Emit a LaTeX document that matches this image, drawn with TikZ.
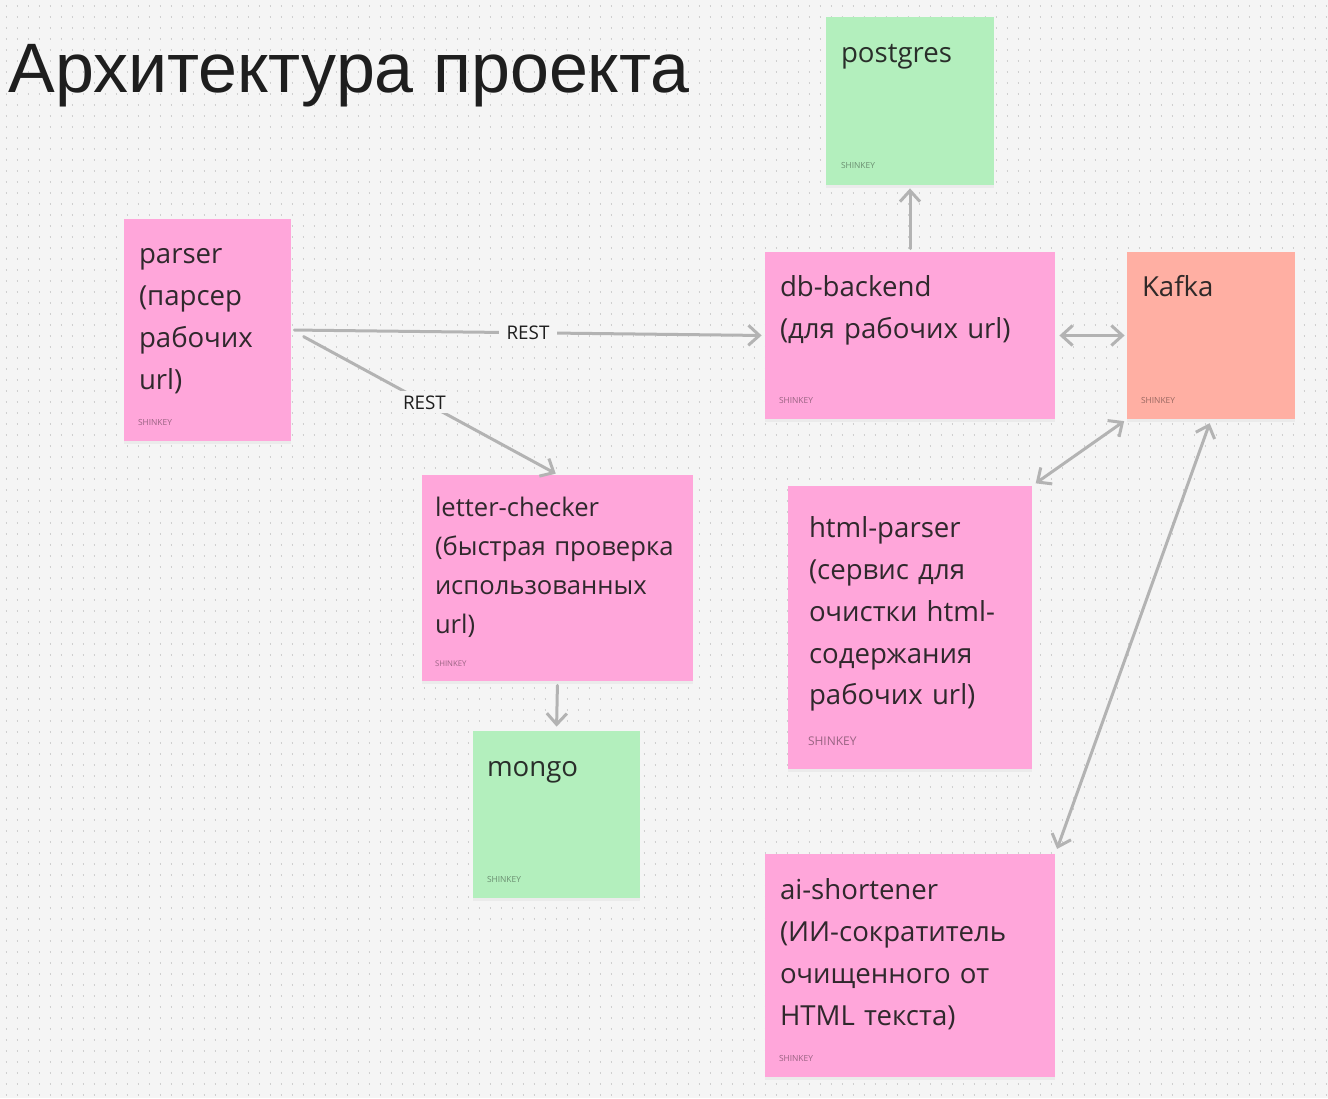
\documentclass[tikz,border=0pt]{standalone}
\usepackage{fontspec}
\setmainfont{Open Sans}
\newfontfamily\titlefont{Liberation Sans}
\usetikzlibrary{arrows.meta,shadows}
\definecolor{canvas}{HTML}{F5F5F5}
\definecolor{dotgray}{HTML}{CFCFCF}
\definecolor{wiregray}{HTML}{B3B3B3}
\definecolor{notepink}{HTML}{FFA6DA}
\definecolor{notegreen}{HTML}{B3EFBD}
\definecolor{notesalmon}{HTML}{FFAFA3}
\definecolor{ink}{HTML}{1E1E1E}
\tikzset{
  dotrow/.style={draw=dotgray, line width=0.75pt, dash pattern=on 0.75pt off 4.75pt},
  stickynote/.style={rectangle, inner sep=0pt, drop shadow={opacity=0.08, shadow xshift=0pt, shadow yshift=-1.5pt}},
  pinknote/.style={stickynote, fill=notepink},
  greennote/.style={stickynote, fill=notegreen},
  kafkanote/.style={stickynote, fill=notesalmon},
  notetext/.style={anchor=base west, align=left, inner sep=0pt, text width=150pt, text=ink, text opacity=0.92, font=\fontsize{13.8}{20.9}\selectfont},
  tagtext/.style={anchor=base west, inner sep=0pt, text=black, text opacity=0.4, font=\fontsize{4.2}{5}\selectfont},
  flowarrow/.style={draw=wiregray, line width=1.5pt, line cap=round},
  restlabel/.style={fill=canvas, inner xsep=4pt, inner ysep=2pt, text=ink, font=\fontsize{9.4}{11}\selectfont}
}
\begin{document}
\begin{tikzpicture}[x=0.5pt, y=-0.5pt, >={Straight Barb[length=5.5pt,width=10pt]}]
  % canvas with dot grid
  \fill[canvas] (0,0) rectangle (1328,1098);
  \useasboundingbox (0,0) rectangle (1328,1098);
  \foreach \y in {6,17,...,1098}
    \draw[dotrow] (5.5,\y) -- (1328,\y);

  \node[anchor=base west, inner sep=0pt, text=ink, font=\titlefont\fontsize{35}{40}\selectfont] (title) at (8,92) {Архитектура проекта};

  % stickies
  \node[pinknote, minimum width=83.5pt, minimum height=111pt] (parser) at (207.5,330) {};
  \node[greennote, minimum width=84pt, minimum height=84pt] (postgres) at (910,101) {};
  \node[pinknote, minimum width=145pt, minimum height=83.5pt] (dbbackend) at (910,335.5) {};
  \node[kafkanote, minimum width=84pt, minimum height=83.5pt] (kafka) at (1211,335.5) {};
  \node[pinknote, minimum width=135.5pt, minimum height=103pt] (letterchecker) at (557.5,578) {};
  \node[greennote, minimum width=83.5pt, minimum height=83.5pt] (mongo) at (556.5,814.5) {};
  \node[pinknote, minimum width=122pt, minimum height=141.5pt] (htmlparser) at (910,627.5) {};
  \node[pinknote, minimum width=145pt, minimum height=111.5pt] (aishortener) at (910,965.5) {};

  % texts
  \node[notetext] (parser-txt) at ([shift={(15,45)}]parser.north west) {parser\\(парсер\\рабочих\\url)};
  \node[notetext] (postgres-txt) at ([shift={(15,46)}]postgres.north west) {postgres};
  \node[notetext] (dbbackend-txt) at ([shift={(15,45)}]dbbackend.north west) {db-backend\\(для рабочих url)};
  \node[notetext] (kafka-txt) at ([shift={(15,45)}]kafka.north west) {Kafka};
  \node[notetext, font=\fontsize{12.8}{19.4}\selectfont] (letterchecker-txt) at ([shift={(13,42)}]letterchecker.north west) {letter-checker\\(быстрая проверка\\использованных\\url)};
  \node[notetext] (mongo-txt) at ([shift={(14,46)}]mongo.north west) {mongo};
  \node[notetext] (htmlparser-txt) at ([shift={(21,52)}]htmlparser.north west) {html-parser\\(сервис для\\очистки html-\\содержания\\рабочих url)};
  \node[notetext] (aishortener-txt) at ([shift={(15,46)}]aishortener.north west) {ai-shortener\\(ИИ-сократитель\\очищенного от\\HTML текста)};

  \node[tagtext] (parser-tag) at ([shift={(14,-16)}]parser.south west) {SHINKEY};
  \node[tagtext] (postgres-tag) at ([shift={(15,-17)}]postgres.south west) {SHINKEY};
  \node[tagtext] (dbbackend-tag) at ([shift={(14,-16)}]dbbackend.south west) {SHINKEY};
  \node[tagtext] (kafka-tag) at ([shift={(14,-16)}]kafka.south west) {SHINKEY};
  \node[tagtext, font=\fontsize{3.9}{5}\selectfont] (letterchecker-tag) at ([shift={(13,-15)}]letterchecker.south west) {SHINKEY};
  \node[tagtext] (mongo-tag) at ([shift={(14,-16)}]mongo.south west) {SHINKEY};
  \node[tagtext, font=\fontsize{6}{7}\selectfont] (htmlparser-tag) at ([shift={(20,-24)}]htmlparser.south west) {SHINKEY};
  \node[tagtext] (aishortener-tag) at ([shift={(14,-16)}]aishortener.south west) {SHINKEY};

  % connectors
  \draw[flowarrow, ->, shorten <=1.5pt, shorten >=1.5pt] (parser.east) -- node[restlabel] (rest-db) {REST} (dbbackend.west);
  \draw[flowarrow, ->, shorten <=7pt, shorten >=1pt] (parser.east) -- node[restlabel] (rest-letter) {REST} (letterchecker.north);
  \draw[flowarrow, ->, shorten <=1.5pt, shorten >=1.5pt] (dbbackend.north) -- (postgres.south);
  \draw[flowarrow, <->, shorten <=2pt, shorten >=1pt] (dbbackend.east) -- (kafka.west);
  \draw[flowarrow, <->, shorten <=2pt, shorten >=1.5pt] (htmlparser.north east) -- (kafka.south west);
  \draw[flowarrow, <->, shorten <=2.5pt, shorten >=2pt] (aishortener.north east) -- (kafka.south);
  \draw[flowarrow, ->, shorten <=2pt, shorten >=2pt] (letterchecker.south) -- (mongo.north);
\end{tikzpicture}
\end{document}
